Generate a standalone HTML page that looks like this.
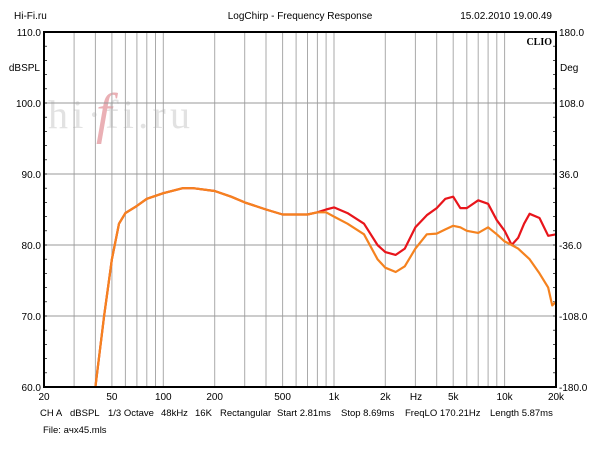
<!DOCTYPE html>
<html><head><meta charset="utf-8"><style>
body{margin:0;background:#fff;width:600px;height:450px;overflow:hidden;font-family:"Liberation Sans",sans-serif}
</style></head><body>
<svg id="s" width="600" height="450" xmlns="http://www.w3.org/2000/svg" font-family="Liberation Sans, sans-serif" font-size="10"></svg>
<script>
const L=44,R=556,T=32,B=387;
const fx=f=>L+(R-L)*Math.log10(f/20)/3;
const fy=d=>T+(110-d)*(B-T)/50;
let h='';
h+=`<text x="14" y="19" font-size="10">Hi-Fi.ru</text><text x="300" y="19" text-anchor="middle">LogChirp - Frequency Response</text><text x="552" y="19" text-anchor="end">15.02.2010 19.00.49</text>`;
h+=`<text x="48" y="128" font-size="40" fill="#e2e2e2" font-family="Liberation Serif,serif" textLength="142">hi·fi.ru</text><text x="96" y="132" font-size="56" fill="#eab0b5" font-style="italic" font-family="Liberation Serif,serif">f</text>`;
for(let dec of [10,100,1000,10000])for(let m=1;m<10;m++){let f=dec*m;if(f<=20||f>=20000)continue;h+=`<line x1="${fx(f).toFixed(1)}" y1="${T}" x2="${fx(f).toFixed(1)}" y2="${B}" stroke="#aaa" stroke-width="1"/>`;}
for(let d=70;d<=100;d+=10)h+=`<line x1="${L}" y1="${fy(d)}" x2="${R}" y2="${fy(d)}" stroke="#999"/>`;
for(let d=60;d<=110;d+=2){h+=`<line x1="${L}" y1="${fy(d)}" x2="${L+3}" y2="${fy(d)}" stroke="#000" stroke-width="0.7"/><line x1="${R-3}" y1="${fy(d)}" x2="${R}" y2="${fy(d)}" stroke="#000" stroke-width="0.7"/>`;}
const yl=[110,100,90,80,70,60],rl=['180.0','108.0','36.0','-36.0','-108.0','-180.0'];
yl.forEach((d,i)=>{h+=`<text x="41" y="${fy(d)+4}" text-anchor="end">${d.toFixed(1)}</text><text x="559" y="${fy(d)+4}">${rl[i]}</text>`;});
h+=`<text x="40" y="71" text-anchor="end">dBSPL</text><text x="560" y="71">Deg</text>`;
h+=`<text x="552" y="45" text-anchor="end" font-weight="bold" font-family="Liberation Serif,serif" font-size="10">CLIO</text>`;
[[20,'20'],[50,'50'],[100,'100'],[200,'200'],[500,'500'],[1000,'1k'],[2000,'2k'],[5000,'5k'],[10000,'10k'],[20000,'20k']].forEach(([f,t])=>h+=`<text x="${fx(f)}" y="400" text-anchor="middle">${t}</text>`);
h+=`<text x="416" y="400" text-anchor="middle">Hz</text>`;
[[40,'CH A'],[70,'dBSPL'],[108,'1/3 Octave'],[161,'48kHz'],[195,'16K'],[220,'Rectangular'],[277,'Start 2.81ms'],[341,'Stop 8.69ms'],[405,'FreqLO 170.21Hz'],[490,'Length 5.87ms']].forEach(([x,t])=>h+=`<text x="${x}" y="416" font-size="9.5">${t}</text>`);
h+=`<text x="43" y="433" font-size="9.5">File: aчx45.mls</text>`;
const common=[[40,60],[45,70],[50,78],[55,83],[60,84.5],[70,85.5],[80,86.5],[100,87.3],[130,88],[150,88],[200,87.6],[250,86.8],[300,86],[400,85],[500,84.3],[600,84.3],[700,84.3],[800,84.6]];
const org=common.concat([[900,84.6],[1000,84],[1200,83],[1500,81.5],[1800,78],[2000,76.8],[2300,76.2],[2600,77],[3000,79.5],[3500,81.5],[4000,81.6],[4500,82.2],[5000,82.7],[5500,82.5],[6000,82],[7000,81.7],[8000,82.5],[9000,81.5],[10000,80.5],[11000,80],[12000,79.5],[14000,78],[16000,76],[18000,74],[19000,71.5],[20000,72]]);
const red=common.concat([[900,85],[1000,85.3],[1200,84.5],[1500,83],[1800,80],[2000,79],[2300,78.6],[2600,79.5],[3000,82.5],[3500,84.2],[4000,85.2],[4500,86.5],[5000,86.8],[5500,85.2],[6000,85.2],[7000,86.3],[8000,85.8],[9000,83.5],[10000,82],[11000,80],[12000,81],[13000,83],[14000,84.4],[16000,83.8],[18000,81.3],[20000,81.5]]);
const p=a=>a.map((q,i)=>(i?'L':'M')+fx(q[0]).toFixed(1)+','+fy(q[1]).toFixed(1)).join('');
h+=`<path d="${p(red)}" fill="none" stroke="#e8151b" stroke-width="2.2" stroke-linejoin="round"/>`;
h+=`<path d="${p(org)}" fill="none" stroke="#f5821f" stroke-width="2.2" stroke-linejoin="round"/>`;
h+=`<rect x="${L}" y="${T}" width="${R-L}" height="${B-T}" fill="none" stroke="#000" stroke-width="2"/>`;
document.getElementById('s').innerHTML=h;
</script>
</body></html>
